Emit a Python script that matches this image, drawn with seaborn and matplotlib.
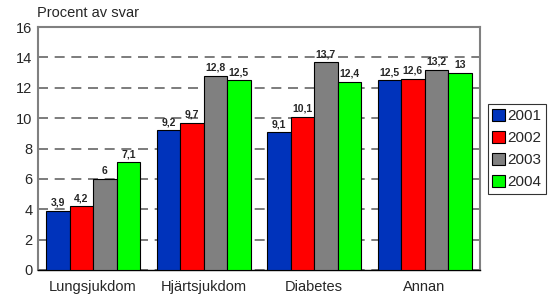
import matplotlib
matplotlib.use("Agg")
import matplotlib.pyplot as plt
import seaborn as sns
import pandas as pd

categories = ["Lungsjukdom", "Hjärtsjukdom", "Diabetes", "Annan"]
years = ["2001", "2002", "2003", "2004"]
v2001 = [3.9, 9.2, 9.1, 12.5]
v2002 = [4.2, 9.7, 10.1, 12.6]
v2003 = [6.0, 12.8, 13.7, 13.2]
v2004 = [7.1, 12.5, 12.4, 13.0]
colors = ["#0033BB", "#FF0000", "#808080", "#00FF00"]

rows = []
for y, vals in zip(years, [v2001, v2002, v2003, v2004]):
    for c, v in zip(categories, vals):
        rows.append({"cat": c, "year": y, "val": v})
df = pd.DataFrame(rows)

sns.set_style("white")
plt.rcParams["font.family"] = ["Liberation Sans", "DejaVu Sans"]

fig = plt.figure(figsize=(5.56, 2.97), dpi=100)
ax = fig.add_axes([0.068, 0.091, 0.795, 0.818])

sns.barplot(data=df, x="cat", y="val", hue="year", palette=colors,
            width=0.85, gap=0, edgecolor="black", linewidth=0.8,
            ax=ax, zorder=3, saturation=1)

def fmt(v):
    s = f"{v:g}"
    return s.replace(".", ",")

for cont in ax.containers:
    ax.bar_label(cont, labels=[fmt(b.get_height()) for b in cont],
                 fontsize=7.5, fontweight="bold", padding=2)

ax.set_ylim(0, 16)
ax.set_yticks(range(0, 17, 2))
ax.set_xlim(-0.5, 3.5)
ax.yaxis.grid(True, linestyle=(0, (6, 4)), color="#666666", linewidth=1.2, zorder=0)
ax.set_axisbelow(True)
ax.set_xlabel("")
ax.set_ylabel("")
ax.tick_params(axis="y", labelsize=10.5, length=0, pad=4)
ax.tick_params(axis="x", labelsize=10.5, length=0, pad=7)
for s in ["left", "right", "top"]:
    ax.spines[s].set_color("#808080")
    ax.spines[s].set_linewidth(1.5)
ax.spines["bottom"].set_color("black")
ax.spines["bottom"].set_linewidth(1)

fig.text(0.066, 0.955, "Procent av svar", fontsize=10.5, ha="left", va="center")

leg = ax.legend(loc="upper left", bbox_to_anchor=(1.018, 0.683), fontsize=11,
                frameon=True, fancybox=False, edgecolor="black",
                handlelength=0.85, handleheight=0.85, handletextpad=0.15,
                borderpad=0.3, labelspacing=0.5, borderaxespad=0, title=None)
leg.get_frame().set_linewidth(0.8)

fig.savefig("out.png", dpi=100)
